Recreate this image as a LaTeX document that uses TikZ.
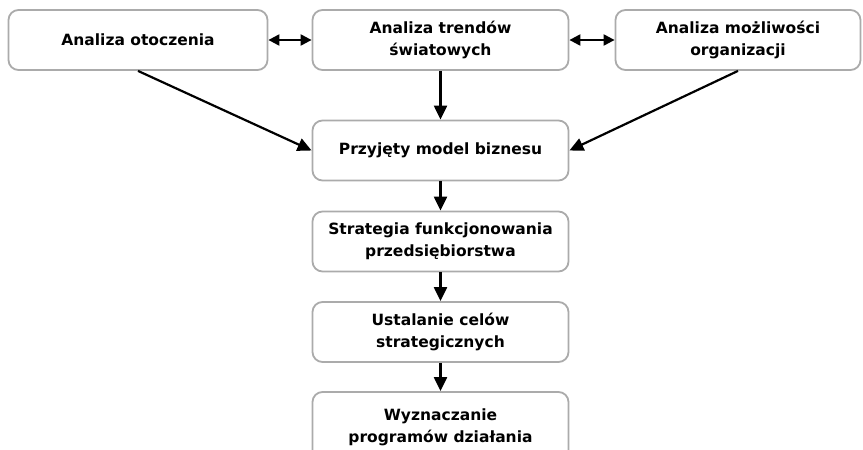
\documentclass[tikz,border=0pt]{standalone}
\usepackage{fontspec}
\setmainfont{DejaVu Sans}
\usetikzlibrary{arrows.meta}

\begin{document}
\begin{tikzpicture}[x=1pt, y=-1pt,
	every node/.style={font=\fontsize{15.5}{22}\selectfont\bfseries, align=center},
	box/.style={draw=black!33, line width=1.8pt, rounded corners=10pt, fill=white, inner sep=0pt, minimum height=60pt},
	arr/.style={line width=2.2pt, -{Triangle[length=14pt,width=13pt]}},
	darr/.style={line width=2.2pt, {Triangle[length=11pt,width=11pt]}-{Triangle[length=11pt,width=11pt]}}]
	\useasboundingbox (0,0) rectangle (863,450);
	% top row
	\node[box, minimum width=259pt] (otocz) at (138,40) {Analiza otoczenia};
	\node[box, minimum width=256pt] (trend) at (440.5,40) {Analiza trendów\\światowych};
	\node[box, minimum width=245pt] (mozl) at (738,40) {Analiza możliwości\\organizacji};
	% middle column
	\node[box, minimum width=256pt] (model) at (440.5,150.5) {Przyjęty model biznesu};
	\node[box, minimum width=256pt] (strat) at (440.5,241.5) {Strategia funkcjonowania\\przedsiębiorstwa};
	\node[box, minimum width=256pt] (cele) at (440.5,332) {Ustalanie celów\\strategicznych};
	\node[box, minimum width=256pt, minimum height=70pt] (prog) at (440.5,427) {Wyznaczanie\\programów działania};
	\draw[darr] (otocz) -- (trend);
	\draw[darr] (trend) -- (mozl);
	\draw[arr] (otocz.south) -- (model.west);
	\draw[arr] (mozl.south) -- (model.east);
	\foreach \a/\b in {trend/model, model/strat, strat/cele, cele/prog}
		\draw[arr] (\a) -- (\b);
\end{tikzpicture}
\end{document}
